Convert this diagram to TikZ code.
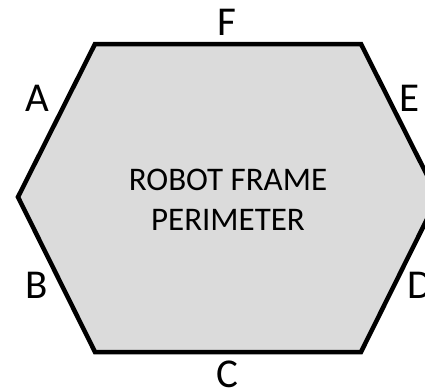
\documentclass[tikz,border=0pt]{standalone}
\usepackage{fontspec}
\setmainfont{Carlito}
\begin{document}
\begin{tikzpicture}[x=1pt, y=-1pt,
  robframe/.style = {line width=4.5pt, line join=miter, fill=black!14},
  roblbl/.style = {font=\fontsize{41}{44}\selectfont, inner sep=0pt},
  robtxt/.style = {font=\fontsize{33}{40}\selectfont, align=center, inner sep=0pt}
]
  \useasboundingbox (0,0) rectangle (425,389);
  % frame
  \draw[robframe] (95,44) -- (361,44) -- (438,197) -- (361,352) --
    (95,352) -- (18,197) -- cycle;
  \node[robtxt] (title) at (228,200) {ROBOT FRAME\\PERIMETER};
  % sides
  \node[roblbl] (sideF) at (227,22) {F};
  \node[roblbl] (sideA) at (37,98) {A};
  \node[roblbl] (sideE) at (410,98) {E};
  \node[roblbl] (sideB) at (37,285) {B};
  \node[roblbl] (sideD) at (420,285) {D};
  \node[roblbl] (sideC) at (227,374) {C};
\end{tikzpicture}
\end{document}
